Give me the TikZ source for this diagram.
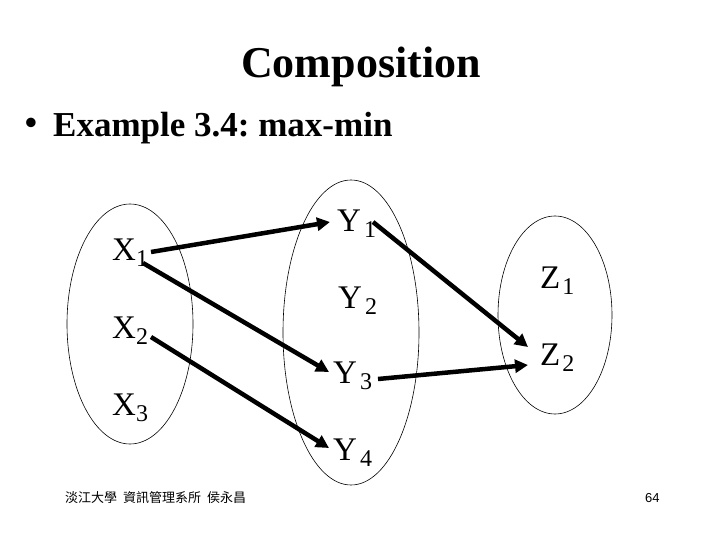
\documentclass[tikz,border=0pt]{standalone}
\usepackage{fontspec}
\setmainfont{Liberation Serif}
\newfontfamily\cjkfont{Noto Sans CJK TC}
\newfontfamily\arialfont{Liberation Sans}
\usetikzlibrary{arrows.meta,calc}
\frenchspacing
\newcommand\mysub[2][3pt]{\hspace{#1}\raisebox{-6pt}{\fontsize{24}{24}\selectfont #2}}
\tikzset{
  lbl/.style={inner sep=0pt, anchor=base west, font=\fontsize{33}{33}\selectfont},
  setline/.style={line width=0.6pt},
  arr/.style={line width=4.5pt, -{Triangle[length=13pt,width=13pt]}}
}
\begin{document}
\begin{tikzpicture}[x=1pt,y=-1pt]
\useasboundingbox (0,0) rectangle (720,540);
\fill[white] (0,0) rectangle (720,540);
% title
\node[inner sep=0pt, anchor=base] (title) at (361,78) {\fontsize{44}{44}\selectfont\bfseries Composition};
\node[inner sep=0pt] (bullet) at (31,126) {\fontsize{35}{35}\selectfont\bfseries •};
\node[inner sep=0pt, anchor=base west] (example) at (53,137) {\fontsize{35}{35}\selectfont\bfseries Example 3.4: max-min};
% sets
\draw[setline] (130,324) ellipse [x radius=63, y radius=120];
\draw[setline] (351,332.5) ellipse [x radius=68, y radius=152.5];
\draw[setline] (555,315) ellipse [x radius=57, y radius=99];
% labels
\node[lbl] (X1) at (112,260) {X\mysub[0pt]{1}};
\node[lbl] (X2) at (112,338) {X\mysub[0pt]{2}};
\node[lbl] (X3) at (112,415) {X\mysub[0pt]{3}};
\node[lbl] (Y1) at (337,231) {Y\mysub{1}};
\node[lbl] (Y2) at (338,308) {Y\mysub{2}};
\node[lbl] (Y3) at (333,383) {Y\mysub{3}};
\node[lbl] (Y4) at (333,460) {Y\mysub{4}};
\node[lbl] (Z1) at (540,288) {Z\mysub[2pt]{1}};
\node[lbl] (Z2) at (540,365) {Z\mysub[2pt]{2}};
% arrows
\draw[arr] ($(X1.base west)+(39,-8)$) -- ($(Y1.base west)+(-7,-9)$);
\draw[arr] ($(X1.base west)+(31,3)$) -- ($(Y3.base west)+(-4,-11)$);
\draw[arr] ($(X2.base west)+(39,-1)$) -- ($(Y4.base west)+(-4,-12)$);
\draw[arr] ($(Y1.base west)+(36,-9)$) -- ($(Z2.base west)+(-12,-18)$);
\draw[arr] ($(Y3.base west)+(45,-4)$) -- ($(Z2.base west)+(-12,0)$);
% footer
\node[inner sep=0pt, anchor=west] (footer) at (65,498) {\cjkfont\fontsize{13}{13}\selectfont 淡江大學\hspace{6pt}資訊管理系所\hspace{6pt}侯永昌};
\node[inner sep=0pt, anchor=west] (page) at (645,498) {\arialfont\fontsize{13}{13}\selectfont 64};
\end{tikzpicture}
\end{document}
